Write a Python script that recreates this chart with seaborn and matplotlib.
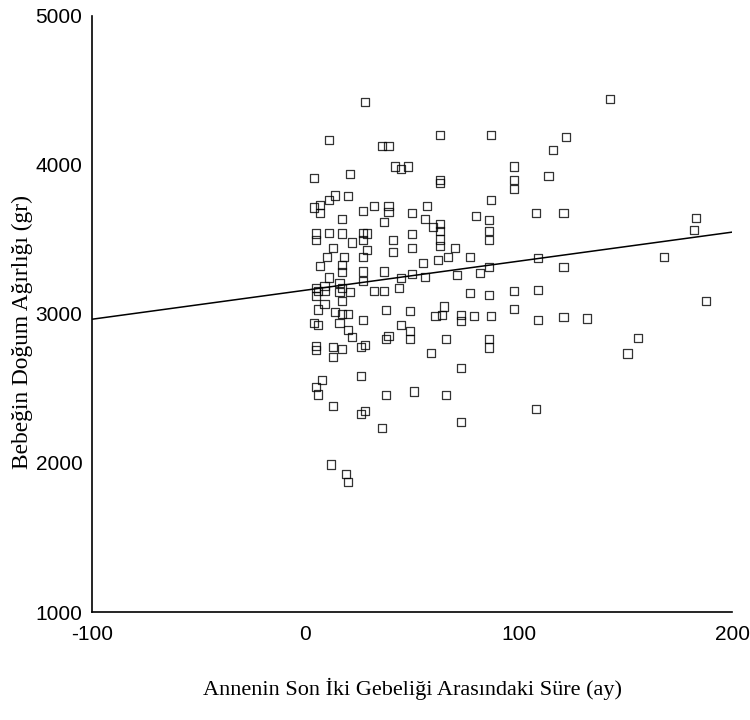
import matplotlib
matplotlib.use("Agg")
import matplotlib.pyplot as plt
import seaborn as sns
import pandas as pd

# Interval between the mother's last two pregnancies (months)
interval_months = [
    28, 11, 36, 39, 63, 87, 122, 116, 143, 98, 114, 42, 45, 48, 4, 21,
    63, 63, 98, 98, 14, 11, 20, 4, 7, 7, 17, 27, 32, 39, 39, 37,
    50, 57, 56, 60, 87, 80, 108, 121, 86, 86, 86, 63, 63, 63, 63, 5,
    5, 11, 17, 27, 29, 27, 22, 41, 50, 50, 13, 41, 29, 10, 18, 27,
    7, 17, 17, 27, 37, 55, 50, 56, 45, 11, 70, 67, 77, 86, 82, 71,
    109, 121, 183, 182, 168,
    6, 9, 16, 21, 32, 37, 44, 5, 9, 17, 6, 14, 17, 20, 27, 38,
    49, 4, 6, 16, 20, 22, 39, 38, 45, 49, 49, 61, 5, 5, 13, 17,
    13, 26, 28, 59, 8, 5, 6, 26, 13, 38, 51, 26, 28, 36, 12, 19,
    20, 77, 86, 98, 109, 65, 64, 73, 73, 79, 87, 98, 109, 121, 66, 86,
    86, 73, 66, 108, 73, 188, 132, 156, 151,
    9, 5, 16, 17, 27, 62,
]
# Birth weight of the baby (g)
birth_weight_g = [
    4420, 4170, 4130, 4130, 4200, 4200, 4185, 4100, 4440, 3990, 3925, 3990, 3975, 3990, 3910, 3940,
    3900, 3880, 3900, 3840, 3795, 3765, 3790, 3715, 3730, 3680, 3640, 3690, 3725, 3725, 3685, 3620,
    3680, 3725, 3640, 3585, 3765, 3660, 3675, 3675, 3630, 3560, 3495, 3605, 3555, 3500, 3455, 3540,
    3495, 3545, 3540, 3545, 3540, 3495, 3480, 3495, 3535, 3445, 3440, 3415, 3430, 3385, 3380, 3380,
    3320, 3330, 3280, 3285, 3285, 3340, 3270, 3250, 3240, 3245, 3440, 3380, 3380, 3315, 3275, 3260,
    3375, 3315, 3645, 3565, 3385,
    3155, 3155, 3150, 3150, 3155, 3155, 3175, 3120, 3070, 3085, 3030, 3015, 3000, 3000, 2960, 3025,
    3020, 2940, 2925, 2940, 2890, 2845, 2850, 2830, 2925, 2885, 2830, 2985, 2785, 2760, 2780, 2765,
    2710, 2780, 2790, 2740, 2555, 2510, 2460, 2585, 2380, 2455, 2480, 2330, 2350, 2235, 1990, 1925,
    1875, 3140, 3130, 3155, 3160, 3050, 2995, 2995, 2950, 2985, 2985, 3035, 2960, 2980, 2830, 2830,
    2775, 2635, 2455, 2360, 2275, 3085, 2970, 2840, 2735,
    3185, 3175, 3205, 3175, 3220, 3360,
]

x_ticks = [-100, 0, 100, 200]
y_ticks = [1000, 2000, 3000, 4000, 5000]
x_label = "Annenin Son İki Gebeliği Arasındaki Süre (ay)"
y_label = "Bebeğin Doğum Ağırlığı (gr)"

df = pd.DataFrame({"x": interval_months, "y": birth_weight_g})

sns.set_style("white")
plt.rcParams["font.family"] = ["Liberation Sans Narrow", "Liberation Sans", "DejaVu Sans"]

fig = plt.figure(figsize=(7.5, 7.2), dpi=100)
ax = fig.add_axes([0.1227, 0.15, 0.8533, 0.8278])
ax.set_xlim(-100, 200)
ax.set_ylim(1000, 5000)

sns.regplot(
    data=df, x="x", y="y", ax=ax, ci=None, truncate=False, marker="s",
    scatter_kws=dict(facecolors="none", edgecolors="black", s=34, linewidths=0.9),
    line_kws=dict(color="black", lw=1.1),
)
ax.set_xlim(-100, 200)
ax.set_ylim(1000, 5000)

ax.set_xticks(x_ticks)
ax.set_yticks(y_ticks)
ax.set_xticklabels([str(v) for v in x_ticks])
ax.set_yticklabels([str(v) for v in y_ticks])
ax.tick_params(axis="both", direction="out", length=4, width=2.5, color="black",
               labelsize=15, labelcolor="black", pad=3)
ax.tick_params(axis="x", pad=5)

for side in ["top", "right"]:
    ax.spines[side].set_visible(False)
for side in ["left", "bottom"]:
    ax.spines[side].set_color("black")
    ax.spines[side].set_linewidth(1.2)

ax.set_xlabel(x_label, family=["Liberation Serif", "DejaVu Serif"], fontsize=16, color="black")
ax.set_ylabel(y_label, family=["Liberation Serif", "DejaVu Serif"], fontsize=16.8, color="black")
ax.xaxis.set_label_coords(0.5, -0.11)
ax.yaxis.set_label_coords(-0.092, 0.47)

fig.savefig("out.png", dpi=100)
